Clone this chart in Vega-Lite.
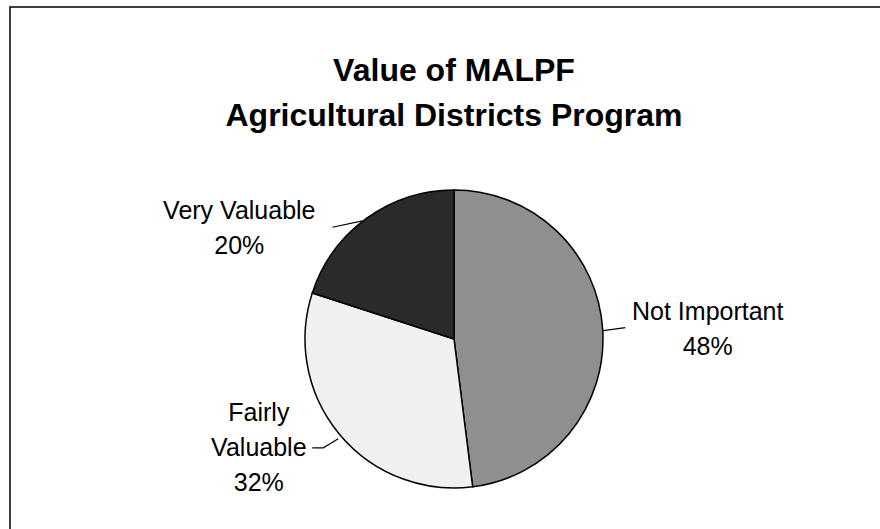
{
  "$schema": "https://vega.github.io/schema/vega-lite/v6.json",
  "width": 888,
  "height": 664,
  "autosize": {"type": "none"},
  "padding": {"left": 10, "top": 7, "right": 0, "bottom": 0},
  "background": "white",
  "config": {
    "view": {"stroke": "black", "strokeWidth": 1.5},
    "font": "Liberation Sans"
  },
  "title": {
    "text": ["Value of MALPF", "Agricultural Districts Program"],
    "anchor": "middle",
    "frame": "group",
    "baseline": "top",
    "offset": -51,
    "dy": 75,
    "fontSize": 32,
    "fontWeight": "bold",
    "font": "Liberation Sans",
    "lineHeight": 45,
    "color": "black"
  },
  "datasets": {
    "slices": [
      {"category": "Not Important", "value": 48, "order": 1},
      {"category": "Fairly Valuable", "value": 32, "order": 2},
      {"category": "Very Valuable", "value": 20, "order": 3}
    ],
    "labels": [
      {"text": "Not Important\n48%", "x": 1.703, "y": 0.183},
      {"text": "Very Valuable\n20%", "x": -1.441, "y": 0.861},
      {"text": "Fairly\nValuable\n32%", "x": -1.31, "y": -0.495}
    ],
    "leaders": [
      {"label": "Very Valuable", "i": 1, "x": -0.816, "y": 0.75},
      {"label": "Very Valuable", "i": 2, "x": -0.615, "y": 0.793},
      {"label": "Not Important", "i": 1, "x": 1.002, "y": 0.056},
      {"label": "Not Important", "i": 2, "x": 1.15, "y": 0.076},
      {"label": "Fairly Valuable", "i": 1, "x": -0.951, "y": -0.73},
      {"label": "Fairly Valuable", "i": 2, "x": -0.877, "y": -0.73},
      {"label": "Fairly Valuable", "i": 3, "x": -0.777, "y": -0.669}
    ]
  },
  "layer": [
    {
      "data": {"name": "slices"},
      "mark": {"type": "arc", "radius": 149, "stroke": "black", "strokeWidth": 1.5},
      "encoding": {
        "theta": {"field": "value", "type": "quantitative", "stack": true},
        "order": {"field": "order", "type": "quantitative"},
        "color": {
          "field": "category",
          "type": "nominal",
          "scale": {
            "domain": ["Not Important", "Fairly Valuable", "Very Valuable"],
            "range": ["#8f8f8f", "#f0f0f0", "#2a2a2a"]
          },
          "legend": null
        }
      }
    },
    {
      "data": {"name": "leaders"},
      "mark": {"type": "line", "color": "black", "strokeWidth": 1.2},
      "encoding": {
        "x": {"field": "x", "type": "quantitative", "scale": {"domain": [-2.98, 2.98], "nice": false, "zero": false}, "axis": null},
        "y": {"field": "y", "type": "quantitative", "scale": {"domain": [-2.228, 2.228], "nice": false, "zero": false}, "axis": null},
        "detail": {"field": "label", "type": "nominal"},
        "order": {"field": "i", "type": "quantitative"}
      }
    },
    {
      "data": {"name": "labels"},
      "mark": {"type": "text", "fontSize": 25, "lineBreak": "\n", "lineHeight": 35, "align": "center", "baseline": "middle", "font": "Liberation Sans", "color": "black"},
      "encoding": {
        "x": {"field": "x", "type": "quantitative", "scale": {"domain": [-2.98, 2.98], "nice": false, "zero": false}, "axis": null},
        "y": {"field": "y", "type": "quantitative", "scale": {"domain": [-2.228, 2.228], "nice": false, "zero": false}, "axis": null},
        "text": {"field": "text", "type": "nominal"}
      }
    }
  ]
}
